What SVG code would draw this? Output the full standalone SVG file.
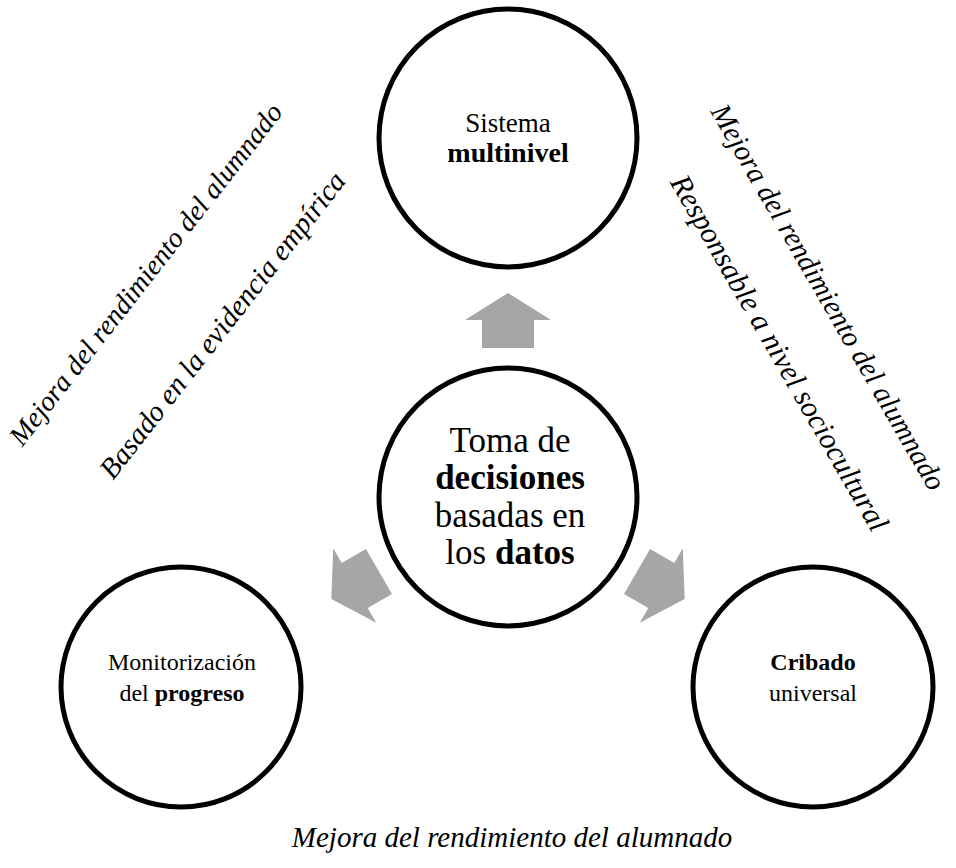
<svg xmlns="http://www.w3.org/2000/svg" width="956" height="868" viewBox="0 0 956 868">
<style>
.ring{fill:#fff;stroke:#000;stroke-width:5}
.arr{fill:#a6a6a6}
.t{font-family:"Liberation Serif","Times New Roman",serif;fill:#000;text-anchor:middle}
.b{font-weight:bold}
.i{font-family:"Liberation Serif","Times New Roman",serif;font-style:italic;fill:#000;text-anchor:middle}
</style>
<defs>
<polygon id="uparrow" points="508,293 551,320 534,320 534,348 482,348 482,320 465,320"/>
</defs>
<rect width="956" height="868" fill="#fff"/>
<g id="connectors">
<use href="#uparrow" class="arr"/>
<use href="#uparrow" class="arr" transform="rotate(-120 508 497)"/>
<use href="#uparrow" class="arr" transform="rotate(120 508 497)"/>
</g>
<g id="node-top">
<circle class="ring" cx="508" cy="138" r="129"/>
<text class="t" x="508" y="132" font-size="27">Sistema</text>
<text class="t b" x="508" y="162" font-size="28">multinivel</text>
</g>
<g id="node-center">
<circle class="ring" cx="508" cy="497" r="129"/>
<text class="t" x="510" y="452" font-size="35">Toma de</text>
<text class="t b" x="510" y="489" font-size="35">decisiones</text>
<text class="t" x="510" y="527" font-size="35">basadas en</text>
<text class="t" x="510" y="564" font-size="35">los <tspan class="b">datos</tspan></text>
</g>
<g id="node-left">
<circle class="ring" cx="181" cy="687" r="120"/>
<text class="t" x="182" y="670" font-size="24">Monitorización</text>
<text class="t" x="182" y="701" font-size="24">del <tspan class="b">progreso</tspan></text>
</g>
<g id="node-right">
<circle class="ring" cx="813" cy="687" r="120"/>
<text class="t b" x="813" y="670" font-size="24">Cribado</text>
<text class="t" x="813" y="701" font-size="24">universal</text>
</g>
<g id="labels">
<text class="i" font-size="28" transform="translate(153 280) rotate(-52)">Mejora del rendimiento del alumnado</text>
<text class="i" font-size="29" transform="translate(230 331) rotate(-52)">Basado en la evidencia empírica</text>
<text class="i" font-size="29" transform="translate(820 302) rotate(60)">Mejora del rendimiento del alumnado</text>
<text class="i" font-size="30" transform="translate(771 358) rotate(60)">Responsable a nivel sociocultural</text>
<text class="i" x="512" y="847" font-size="29">Mejora del rendimiento del alumnado</text>
</g>
</svg>
